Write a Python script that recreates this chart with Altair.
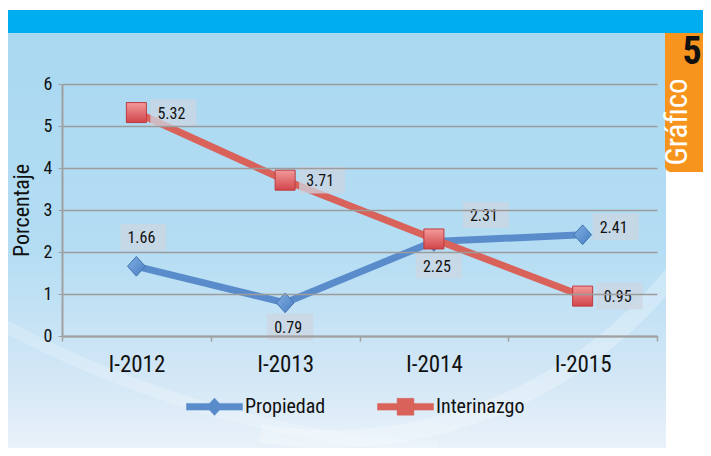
import altair as alt
import pandas as pd

# ---- data ----
periodos = ["I-2012", "I-2013", "I-2014", "I-2015"]
propiedad = [1.66, 0.79, 2.25, 2.41]
interinazgo = [5.32, 3.71, 2.31, 0.95]
series_names = ["Propiedad", "Interinazgo"]
y_ticks = [0, 1, 2, 3, 4, 5, 6]

# label placement codes (style, not data)
pos_propiedad = ["above", "below", "below", "right_up"]
pos_interinazgo = ["right", "right", "above_right", "right"]
offsets = {
    "right": (37, 0),
    "right_up": (33, -8),
    "above": (7, -29),
    "below": (5, 24),
    "above_right": (52, -24),
}

FONT = "'Roboto Condensed', 'DejaVu Sans Condensed', Roboto, sans-serif"
BLUE = "#5A8CCB"
RED = "#D9625B"

rows = []
for i, p in enumerate(periodos):
    rows.append({"periodo": p, "serie": series_names[0], "valor": propiedad[i],
                 "pos": pos_propiedad[i]})
    rows.append({"periodo": p, "serie": series_names[1], "valor": interinazgo[i],
                 "pos": pos_interinazgo[i]})
df = pd.DataFrame(rows)
df["etiqueta"] = df["valor"].map(lambda v: f"{v:.2f}")

one = pd.DataFrame({"k": [0]})

# ---- decorations (pixel positions relative to plot origin) ----
panel = alt.Chart(one).mark_rect(
    fill=alt.Gradient(
        gradient="linear",
        stops=[alt.GradientStop(color="#A9D8F1", offset=0),
               alt.GradientStop(color="#B4DDF3", offset=0.5),
               alt.GradientStop(color="#D3E7F6", offset=0.8),
               alt.GradientStop(color="#EEF4FA", offset=1)],
        x1=0, x2=0, y1=0, y2=1),
).encode(x=alt.value(-60), x2=alt.value(604), y=alt.value(-51), y2=alt.value(380))

wave1 = alt.Chart(one).mark_arc(radius=430, radius2=448, theta=2.15, theta2=3.3,
                                color="white", opacity=0.25).encode(
    x=alt.value(268), y=alt.value(-84))
wave2 = alt.Chart(one).mark_arc(radius=1044, radius2=1056, theta=3.2, theta2=3.75,
                                color="white", opacity=0.2).encode(
    x=alt.value(438), y=alt.value(-684))

topbar = alt.Chart(one).mark_rect(color="#00AEEF").encode(
    x=alt.value(-60), x2=alt.value(660), y=alt.value(-74), y2=alt.value(-51))

tab = alt.Chart(one).mark_rect(color="#F7941D", cornerRadiusBottomLeft=6).encode(
    x=alt.value(603), x2=alt.value(660), y=alt.value(-51), y2=alt.value(88))

tab5 = alt.Chart(one).mark_text(text="5", font=FONT, fontSize=38, fontWeight="bold",
                                color="#111111", baseline="middle", align="center").encode(
    x=alt.value(630), y=alt.value(-31))

tabtxt = alt.Chart(one).mark_text(text="Gráfico", font=FONT, fontSize=31, color="white",
                                  angle=270, baseline="middle", align="center").encode(
    x=alt.value(616), y=alt.value(38))

# ---- main chart ----
x_enc = alt.X("periodo:N", sort=periodos, title=None,
              scale=alt.Scale(type="band", paddingInner=0, paddingOuter=0),
              axis=alt.Axis(tickBand="extent", labelFontSize=23, labelFont=FONT,
                            labelColor="#111111", labelPadding=12, labelAngle=0,
                            domainColor="#A0A0A0", domainWidth=2, tickColor="#A0A0A0",
                            tickWidth=1.5, tickSize=5, grid=False, zindex=1))
y_enc = alt.Y("valor:Q", title="Porcentaje",
              scale=alt.Scale(domain=[0, 6], nice=False),
              axis=alt.Axis(values=y_ticks, format="d", labelFontSize=18, labelFont=FONT,
                            labelColor="#111111", labelPadding=6,
                            titleFont=FONT, titleFontSize=22, titleFontWeight="normal",
                            titleColor="#111111", titlePadding=10,
                            domainColor="#A0A0A0", domainWidth=2, tickColor="#A0A0A0",
                            tickSize=4, gridColor="#9C9C9C", gridWidth=1.5, zindex=1))

leg_diamond = ("M-1,-0.12 L1,-0.12 L1,0.12 L-1,0.12 Z "
               "M0,-0.31 L0.29,0 L0,0.31 L-0.29,0 Z")
leg_square = ("M-1,-0.12 L1,-0.12 L1,0.12 L-1,0.12 Z "
              "M-0.3,-0.3 L0.3,-0.3 L0.3,0.3 L-0.3,0.3 Z")

legend = alt.Legend(
    title=None, orient="none", legendX=124, legendY=294, direction="horizontal",
    labelFont=FONT, labelFontSize=20, labelColor="#111111", labelOffset=2,
    symbolSize=3136, columnPadding=50, padding=0, symbolOpacity=1,
    symbolStrokeWidth=0.5, zindex=2,
)

color_scale = alt.Scale(domain=series_names, range=[BLUE, RED])

base = alt.Chart(df)
xs = alt.X("periodo:N", sort=periodos)

lines = base.mark_line(strokeWidth=7).encode(
    x=x_enc, y=y_enc,
    stroke=alt.Stroke("serie:N", scale=color_scale, legend=legend),
    detail="serie:N",
)

legend_layer = base.mark_point(size=1, filled=True, opacity=1).encode(
    x=xs, y="valor:Q",
    color=alt.Color("serie:N", scale=color_scale, legend=legend),
    shape=alt.Shape("serie:N", scale=alt.Scale(domain=series_names,
                                               range=[leg_diamond, leg_square]),
                    legend=legend),
)

diamonds = base.transform_filter(alt.datum.serie == "Propiedad").mark_point(
    shape="M0,-1 L0.9,0 L0,1 L-0.9,0 Z", size=390, filled=True, opacity=1,
    fill=alt.Gradient(gradient="linear",
                      stops=[alt.GradientStop(color="#7FAEE3", offset=0),
                             alt.GradientStop(color="#4A7FC1", offset=1)],
                      x1=0, x2=1, y1=0, y2=1),
    stroke="#4474B0", strokeWidth=1,
).encode(x=xs, y="valor:Q")

squares = base.transform_filter(alt.datum.serie == "Interinazgo").mark_point(
    shape="square", size=400, filled=True, opacity=1,
    fill=alt.Gradient(gradient="linear",
                      stops=[alt.GradientStop(color="#F29A9A", offset=0),
                             alt.GradientStop(color="#D2454A", offset=1)],
                      x1=0, x2=0, y1=0, y2=1),
    stroke="#C0393E", strokeWidth=1,
).encode(x=xs, y="valor:Q")

box_shape = "M-1,-0.58 L1,-0.58 L1,0.58 L-1,0.58 Z"
label_layers = []
for code, (dx, dy) in offsets.items():
    sub = base.transform_filter(alt.datum.pos == code)
    label_layers.append(sub.mark_point(
        shape=box_shape, size=46 * 46, filled=True, color="#CCD5E2", opacity=0.75,
        xOffset=dx, yOffset=dy, strokeWidth=0,
    ).encode(x=xs, y="valor:Q"))
    label_layers.append(sub.mark_text(
        font=FONT, fontSize=16, color="#111111", dx=dx - 2, dy=dy + 1,
        baseline="middle", align="center",
    ).encode(x=xs, y="valor:Q", text="etiqueta:N"))

chart = alt.layer(
    panel, wave1, wave2, topbar, tab, tab5, tabtxt,
    lines, legend_layer, *label_layers, diamonds, squares,
).properties(
    width=595, height=252,
    padding={"left": 54, "top": 76, "right": 46, "bottom": 112},
    autosize=alt.AutoSizeParams(type="none"),
    background="white",
).configure_view(stroke=None)

chart.save("out.html", embed_options={"renderer": "svg", "actions": False})
